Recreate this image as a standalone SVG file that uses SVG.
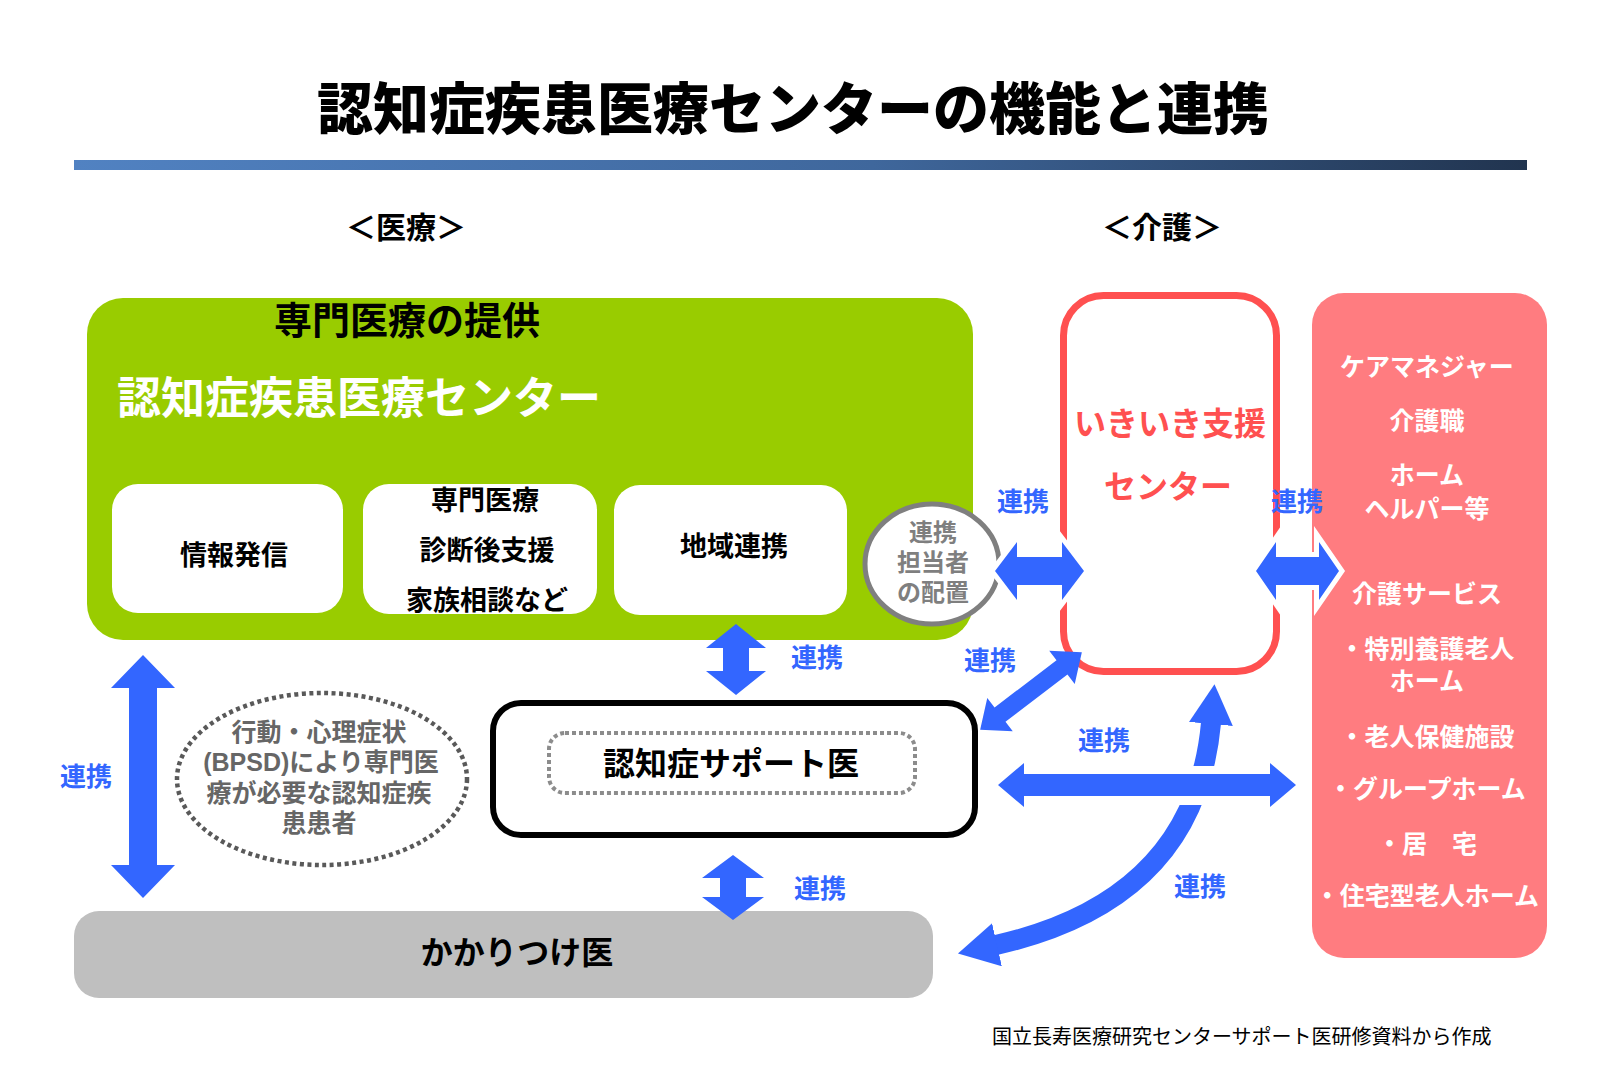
<svg xmlns="http://www.w3.org/2000/svg" width="1600" height="1066" viewBox="0 0 1600 1066">
<defs>
<linearGradient id="bar" x1="0" y1="0" x2="1" y2="0">
<stop offset="0" stop-color="#5182c2"/>
<stop offset="0.55" stop-color="#3f679c"/>
<stop offset="1" stop-color="#21344f"/>
</linearGradient>
<marker id="ah" viewBox="0 0 40 44" refX="1" refY="22" markerWidth="40" markerHeight="44" markerUnits="userSpaceOnUse" orient="auto-start-reverse">
<path d="M0,0 L40,22 L0,44 Z" fill="#3366ff"/>
</marker>
<style>
text{font-family:"Noto Sans CJK JP","Noto Sans",sans-serif;font-weight:700}
.tight{font-family:"Liberation Sans","Noto Sans CJK JP",sans-serif}
.c{text-anchor:middle}
.lbl{fill:#3366ff;font-size:26px;text-anchor:middle}
.arr{fill:#3366ff}
.arrw{fill:#3366ff;stroke:#ffffff;stroke-width:10;stroke-linejoin:miter;paint-order:stroke}
.wbox{fill:#ffffff}
.bt{font-size:27px;fill:#000;text-anchor:middle}
.pk{font-size:25px;fill:#ffffff;text-anchor:middle}
.el{font-size:25px;fill:#666666;text-anchor:middle}
.foot{font-size:20px;font-weight:400;fill:#000}
</style>
</defs>
<rect width="1600" height="1066" fill="#ffffff"/>
<g id="title">
<text x="793" y="129" class="c" font-size="56" style="font-weight:900" fill="#000">認知症疾患医療センターの機能と連携</text>
<rect x="74" y="160" width="1453" height="10" fill="url(#bar)"/>
<text x="406" y="238" class="c" font-size="30" fill="#000">＜医療＞</text>
<text x="1162" y="238" class="c" font-size="30" fill="#000">＜介護＞</text>
</g>
<g id="center">
<rect x="87" y="298" width="886" height="342" rx="36" fill="#99cc00"/>
<text x="407" y="334" class="c" font-size="38" fill="#000">専門医療の提供</text>
<text x="117" y="414" font-size="44" fill="#ffffff">認知症疾患医療センター</text>
</g>
<g id="info">
<rect x="112" y="484" width="231" height="129" rx="26" class="wbox"/>
<text x="234" y="565" class="bt">情報発信</text>
</g>
<g id="medical">
<rect x="363" y="484" width="234" height="130" rx="26" class="wbox"/>
<text x="485" y="510" class="bt">専門医療</text>
<text x="487" y="560" class="bt">診断後支援</text>
<text x="487" y="610" class="bt">家族相談など</text>
</g>
<g id="regional">
<rect x="614" y="485" width="233" height="130" rx="26" class="wbox"/>
<text x="734" y="556" class="bt">地域連携</text>
</g>
<g id="staff">
<ellipse cx="932" cy="564" rx="67" ry="60" fill="#ffffff" stroke="#7f7f7f" stroke-width="5"/>
<text x="933" y="541" class="c tight" font-size="24" fill="#7f7f7f">連携</text>
<text x="933" y="571" class="c tight" font-size="24" fill="#7f7f7f">担当者</text>
<text x="933" y="601" class="c tight" font-size="24" fill="#7f7f7f">の配置</text>
</g>
<g id="ikiiki">
<rect x="1063.5" y="295.5" width="213" height="376" rx="40" fill="#ffffff" stroke="#ff5050" stroke-width="7"/>
<text x="1170" y="435" class="c" font-size="32" fill="#ff5050">いきいき支援</text>
<text x="1168" y="498" class="c" font-size="32" fill="#ff5050">センター</text>
</g>
<g id="care">
<rect x="1312" y="293" width="235" height="665" rx="32" fill="#ff7c80"/>
<text x="1427" y="376" class="pk tight">ケアマネジャー</text>
<text x="1427" y="430" class="pk tight">介護職</text>
<text x="1427" y="484" class="pk tight">ホーム</text>
<text x="1427" y="518" class="pk tight">ヘルパー等</text>
<text x="1427" y="603" class="pk tight">介護サービス</text>
<text x="1427" y="658" class="pk tight">・特別養護老人</text>
<text x="1427" y="690" class="pk tight">ホーム</text>
<text x="1427" y="746" class="pk tight">・老人保健施設</text>
<text x="1427" y="798" class="pk tight">・グループホーム</text>
<text x="1427" y="853" class="pk tight">・居　宅</text>
<text x="1427" y="905" class="pk tight">・住宅型老人ホーム</text>
</g>
<g id="bpsd">
<ellipse cx="322" cy="779" rx="145" ry="86" fill="none" stroke="#595959" stroke-width="4.5" stroke-dasharray="4 3.5"/>
<text x="319" y="741" class="el tight">行動・心理症状</text>
<text x="321" y="771" class="el tight">(BPSD)により専門医</text>
<text x="319" y="802" class="el tight">療が必要な認知症疾</text>
<text x="319" y="832" class="el tight">患患者</text>
</g>
<g id="support">
<rect x="493" y="703" width="482" height="132" rx="28" fill="#ffffff" stroke="#000000" stroke-width="6"/>
<rect x="549" y="733" width="366" height="60" rx="16" fill="none" stroke="#8c8c8c" stroke-width="4" stroke-dasharray="4 3"/>
<text x="731" y="775" class="c" font-size="32" fill="#000">認知症サポート医</text>
</g>
<g id="kakari">
<rect x="74" y="911" width="859" height="87" rx="25" fill="#bfbfbf"/>
<text x="517" y="964" class="c" font-size="32" fill="#000">かかりつけ医</text>
</g>
<g id="connectors">
<polygon class="arrw" points="995,571 1017,542 1017,557 1062,557 1062,542 1084,571 1062,600 1062,585 1017,585 1017,600"/>
<polygon class="arrw" points="1256,571 1276,542 1276,557 1319,557 1319,542 1339,571 1319,600 1319,585 1276,585 1276,600"/>
<polygon class="arr" points="736,624 766,648 749,648 749,671 766,671 736,695 706,671 723,671 723,648 706,648"/>
<polygon class="arr" points="733,855 764,878 746,878 746,897 764,897 733,920 702,897 720,897 720,878 702,878"/>
<polygon class="arr" points="143,655 175,688 157,688 157,865 175,865 143,898 111,865 129,865 129,688 111,688"/>
<polygon class="arr" transform="translate(1031,691) rotate(-37.4)" points="-64,0 -39,-21 -39,-9 39,-9 39,-21 64,0 39,21 39,9 -39,9 -39,21"/>
<path d="M996,945 Q1195,900 1211,723" fill="none" stroke="#3366ff" stroke-width="20" marker-start="url(#ah)" marker-end="url(#ah)"/>
<rect x="1168" y="766" width="62" height="39" fill="#ffffff"/>
<polygon class="arr" points="998,785 1024,763 1024,774 1270,774 1270,763 1296,785 1270,807 1270,796 1024,796 1024,807"/>
<text x="1023" y="511" class="lbl">連携</text>
<text x="1297" y="511" class="lbl">連携</text>
<text x="817" y="667" class="lbl">連携</text>
<text x="990" y="670" class="lbl">連携</text>
<text x="1104" y="750" class="lbl">連携</text>
<text x="86" y="786" class="lbl">連携</text>
<text x="820" y="898" class="lbl">連携</text>
<text x="1200" y="896" class="lbl">連携</text>
</g>
<text x="992" y="1044" class="foot">国立長寿医療研究センターサポート医研修資料から作成</text>
</svg>
